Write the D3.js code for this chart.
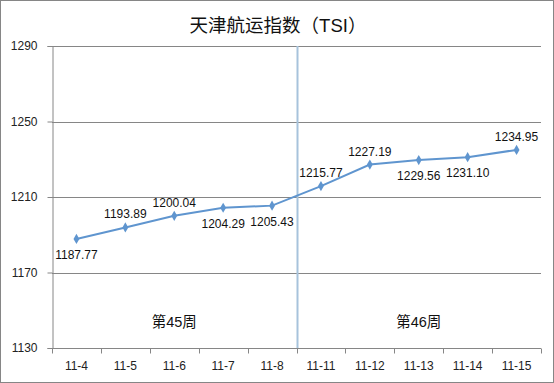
<!DOCTYPE html>
<html>
<head>
<meta charset="utf-8">
<script src="https://cdn.jsdelivr.net/npm/d3@7"></script>
<style>
  body { margin: 0; background: #fff; }
  text { font-family: "Liberation Sans", "Noto Sans CJK SC", sans-serif; }
</style>
</head>
<body>
<div id="chart"></div>
<script>
// data
const dates = ["11-4", "11-5", "11-6", "11-7", "11-8", "11-11", "11-12", "11-13", "11-14", "11-15"]
const tsi = [1187.77, 1193.89, 1200.04, 1204.29, 1205.43, 1215.77, 1227.19, 1229.56, 1231.10, 1234.95]
const labelSide = ["below", "above", "above", "below", "below", "above", "above", "below", "below", "above"]
const yTicks = [1130, 1170, 1210, 1250, 1290]
const weeks = ["第45周", "第46周"]
const title = "天津航运指数（TSI）"

let outerWidth = 554
let outerHeight = 383
let margin = {top: 46, bottom: 35, left: 52, right: 13}
let width = outerWidth - margin.left - margin.right
let height = outerHeight - margin.top - margin.bottom

const svg = d3.select("#chart")
    .append("svg")
    .attr("width", outerWidth)
    .attr("height", outerHeight)

// outer border
svg.append("rect")
    .attr("x", 0.5).attr("y", 0.5)
    .attr("width", outerWidth - 1).attr("height", outerHeight - 1)
    .attr("fill", "#fff")
    .attr("stroke", "#868686")

svg.append("text")
    .attr("x", outerWidth / 2 + 1)
    .attr("y", 32)
    .attr("text-anchor", "middle")
    .attr("font-size", 18.5)
    .attr("fill", "#111")
    .text(title)

const g = svg.append("g")
    .attr("transform", `translate(${margin.left}, ${margin.top})`)

const x = d3.scaleBand()
    .domain(dates)
    .range([0, width])

const y = d3.scaleLinear()
    .domain([1130, 1290])
    .range([height, 0])

// gridlines
g.selectAll(".grid")
    .data(yTicks)
    .enter()
    .append("line")
    .attr("x1", 0).attr("x2", width)
    .attr("y1", d => Math.round(y(d)) + 0.5)
    .attr("y2", d => Math.round(y(d)) + 0.5)
    .attr("stroke", "#868686")

// y axis
const yAxis = g.append("g")
    .attr("transform", "translate(0.5,0)")
    .call(d3.axisLeft(y).tickValues(yTicks).tickFormat(d3.format("d")).tickSize(5).tickPadding(10))
yAxis.select(".domain").attr("stroke", "#868686")
yAxis.selectAll(".tick line").attr("stroke", "#868686")
yAxis.selectAll(".tick text").attr("font-size", 12).attr("fill", "#222")

// x axis with ticks at band edges
const xAxis = g.append("g")
    .attr("transform", `translate(0, ${Math.round(height) + 0.5})`)
xAxis.append("line")
    .attr("x1", 0).attr("x2", width)
    .attr("stroke", "#868686")
xAxis.selectAll(".xt")
    .data(dates.concat(["end"]))
    .enter()
    .append("line")
    .attr("x1", (d, i) => Math.round(i * x.bandwidth()) + 0.5)
    .attr("x2", (d, i) => Math.round(i * x.bandwidth()) + 0.5)
    .attr("y1", 0).attr("y2", 5)
    .attr("stroke", "#868686")
xAxis.selectAll(".xl")
    .data(dates)
    .enter()
    .append("text")
    .attr("x", d => x(d) + x.bandwidth() / 2)
    .attr("y", 21)
    .attr("text-anchor", "middle")
    .attr("font-size", 12)
    .attr("fill", "#222")
    .text(d => d)

// week separator
const sepX = Math.round(x("11-11")) + 0.5
g.append("line")
    .attr("x1", sepX).attr("x2", sepX)
    .attr("y1", 0).attr("y2", height)
    .attr("stroke", "#a7c3dc")
    .attr("stroke-width", 2)

g.selectAll(".week")
    .data(weeks)
    .enter()
    .append("text")
    .attr("x", (d, i) => i == 0 ? (x("11-4") + x("11-8") + x.bandwidth()) / 2 : (x("11-11") + x("11-15") + x.bandwidth()) / 2)
    .attr("y", height - 21)
    .attr("text-anchor", "middle")
    .attr("font-size", 14.5)
    .attr("fill", "#111")
    .text(d => d)

// series
const cx = d => x(d) + x.bandwidth() / 2
const line = d3.line()
    .x((d, i) => cx(dates[i]))
    .y(d => y(d))

g.append("path")
    .datum(tsi)
    .attr("d", line)
    .attr("fill", "none")
    .attr("stroke", "#5f95cf")
    .attr("stroke-width", 2)

g.selectAll(".pt")
    .data(tsi)
    .enter()
    .append("path")
    .attr("d", d3.symbol().type(d3.symbolDiamond).size(30))
    .attr("transform", (d, i) => `translate(${cx(dates[i])}, ${y(d)})`)
    .attr("fill", "#5f95cf")

g.selectAll(".lbl")
    .data(tsi)
    .enter()
    .append("text")
    .attr("x", (d, i) => cx(dates[i]))
    .attr("y", (d, i) => labelSide[i] == "above" ? y(d) - 9 : y(d) + 20)
    .attr("text-anchor", "middle")
    .attr("font-size", 12)
    .attr("fill", "#111")
    .text(d => d.toFixed(2))
</script>
</body>
</html>
